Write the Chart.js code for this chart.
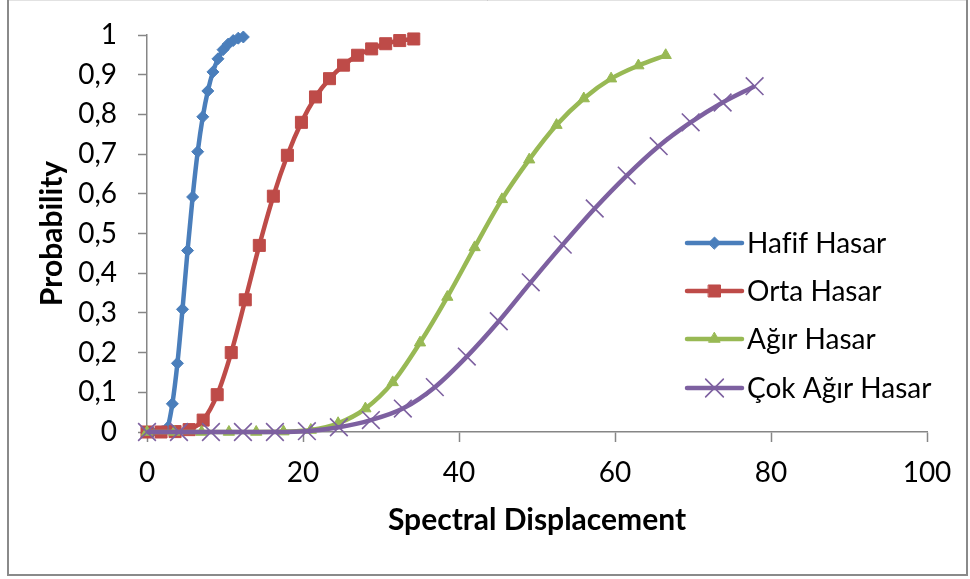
<!DOCTYPE html>
<html>
<head>
<meta charset="utf-8">
<title>Fragility curves</title>
<script src="https://cdn.jsdelivr.net/npm/chart.js@4.4.1/dist/chart.umd.min.js"></script>
<style>
  html, body { margin: 0; padding: 0; background: #ffffff; }
  #wrap { position: relative; width: 970px; height: 579px; }
  canvas { text-rendering: optimizeSpeed; }
</style>
</head>
<body>
<div id="wrap"><canvas id="chart" width="970" height="579"></canvas></div>
<script>
// Spectral displacement (x) and probability of exceedance (y) per damage state
const hafifX = [0, 0.65, 1.3, 1.95, 2.6, 3.25, 3.9, 4.55, 5.2, 5.85, 6.5, 7.15, 7.8, 8.45, 9.1, 9.75, 10.4, 11.05, 11.7, 12.35];
const hafifY = [0, 0, 0, 0.001, 0.01, 0.071, 0.173, 0.309, 0.457, 0.592, 0.706, 0.794, 0.859, 0.907, 0.94, 0.963, 0.977, 0.986, 0.992, 0.995];

const ortaX = [0, 1.8, 3.6, 5.4, 7.2, 9.0, 10.8, 12.6, 14.4, 16.2, 18.0, 19.8, 21.6, 23.4, 25.2, 27.0, 28.8, 30.6, 32.4, 34.2];
const ortaY = [0, 0, 0.001, 0.006, 0.03, 0.094, 0.2, 0.333, 0.47, 0.594, 0.697, 0.78, 0.844, 0.89, 0.924, 0.949, 0.965, 0.978, 0.986, 0.99];

const agirX = [0, 3.5, 7.0, 10.5, 14.0, 17.5, 21.0, 24.5, 28.0, 31.5, 35.0, 38.5, 42.0, 45.5, 49.0, 52.5, 56.0, 59.5, 63.0, 66.5];
const agirY = [0, 0, 0, 0, 0, 0.001, 0.005, 0.022, 0.059, 0.125, 0.225, 0.34, 0.465, 0.586, 0.686, 0.773, 0.84, 0.89, 0.923, 0.949];

const cokAgirX = [0, 4.1, 8.2, 12.3, 16.4, 20.5, 24.6, 28.7, 32.8, 36.9, 41.0, 45.1, 49.2, 53.3, 57.4, 61.5, 65.6, 69.7, 73.8, 77.9];
const cokAgirY = [0, 0, 0, 0, 0, 0.002, 0.012, 0.03, 0.059, 0.113, 0.19, 0.279, 0.377, 0.472, 0.563, 0.646, 0.72, 0.78, 0.83, 0.871];

const seriesNames = ['Hafif Hasar', 'Orta Hasar', 'Ağır Hasar', 'Çok Ağır Hasar'];
const yTickLabels = ['0', '0,1', '0,2', '0,3', '0,4', '0,5', '0,6', '0,7', '0,8', '0,9', '1'];
const xTickLabels = ['0', '20', '40', '60', '80', '100'];

const pairs = (xs, ys) => xs.map((x, i) => ({ x: x, y: ys[i] }));

const FONT = "Lato, 'Open Sans', sans-serif";
const AXIS_GREY = '#868686';

function lineSeries(label, data, color, style, radius, order, pointBorderWidth) {
  return {
    label: label,
    data: data,
    borderColor: color,
    backgroundColor: color,
    borderWidth: 4.5,
    pointStyle: style,
    pointRadius: radius,
    pointHoverRadius: radius,
    pointBackgroundColor: color,
    pointBorderColor: color,
    pointBorderWidth: pointBorderWidth,
    cubicInterpolationMode: 'monotone',
    showLine: true,
    clip: false,
    order: order
  };
}

// Legend with a line sample and the series marker, plus the outer frame
const frameAndLegend = {
  id: 'frameAndLegend',
  beforeDraw(chart) {
    const ctx = chart.ctx;
    ctx.save();
    ctx.fillStyle = '#ffffff';
    ctx.fillRect(0, 0, chart.width, chart.height);
    ctx.strokeStyle = '#8a8a8a';
    ctx.lineWidth = 2;
    ctx.strokeRect(8, 0, 959, 575);
    ctx.strokeStyle = '#e2e2e2';
    ctx.lineWidth = 1;
    ctx.beginPath(); ctx.moveTo(9, 0.5); ctx.lineTo(966, 0.5); ctx.stroke();
    ctx.restore();
  },
  afterDraw(chart) {
    const ctx = chart.ctx;
    const x0 = 687, x1 = 742, textX = 747;
    const rowY = [243, 291, 339, 388];
    ctx.save();
    if ('textRendering' in ctx) ctx.textRendering = 'optimizeSpeed';
    chart.data.datasets.forEach((ds, i) => {
      const y = rowY[i];
      ctx.strokeStyle = ds.borderColor;
      ctx.lineWidth = 4.5;
      ctx.lineCap = 'round';
      ctx.beginPath();
      ctx.moveTo(x0, y);
      ctx.lineTo(x1, y);
      ctx.stroke();
      ctx.fillStyle = ds.pointBackgroundColor;
      ctx.strokeStyle = ds.pointBorderColor;
      ctx.lineWidth = ds.pointBorderWidth;
      Chart.helpers.drawPoint(ctx, {
        pointStyle: ds.pointStyle,
        radius: ds.pointRadius,
        rotation: 0,
        borderWidth: ds.pointBorderWidth
      }, (x0 + x1) / 2, y);
      ctx.fillStyle = '#000000';
      ctx.font = '28px ' + FONT;
      ctx.textAlign = 'left';
      ctx.textBaseline = 'middle';
      ctx.fillText(ds.label, textX, y + 1);
    });
    ctx.restore();
  }
};

new Chart(document.getElementById('chart'), {
  type: 'scatter',
  data: {
    datasets: [
      lineSeries(seriesNames[0], pairs(hafifX, hafifY), '#4A7EBB', 'rectRot', 6, 4, 1),
      lineSeries(seriesNames[1], pairs(ortaX, ortaY), '#BE4B48', 'rect', 8.5, 3, 1),
      lineSeries(seriesNames[2], pairs(agirX, agirY), '#98B954', 'triangle', 6.5, 2, 1),
      lineSeries(seriesNames[3], pairs(cokAgirX, cokAgirY), '#7D60A0', 'crossRot', 12.5, 1, 1.6)
    ]
  },
  options: {
    responsive: false,
    animation: false,
    events: [],
    layout: { padding: { left: 0, top: 30, right: 43, bottom: 0 } },
    plugins: {
      legend: { display: false },
      tooltip: { enabled: false }
    },
    scales: {
      x: {
        type: 'linear',
        min: 0,
        max: 100,
        afterFit(scale) { scale.height = 147; },
        afterBuildTicks(scale) {
          scale.ticks = xTickLabels.map(t => ({ value: Number(t) }));
        },
        ticks: {
          color: '#000000',
          padding: 17,
          font: { family: FONT, size: 28, lineHeight: 1 },
          maxRotation: 0,
          autoSkip: false,
          callback: (v, i) => xTickLabels[i]
        },
        grid: {
          display: true,
          drawOnChartArea: false,
          drawTicks: true,
          tickLength: 10,
          tickColor: AXIS_GREY,
          tickWidth: 1.5
        },
        border: { display: true, color: AXIS_GREY, width: 1.5 },
        title: {
          display: true,
          text: 'Spectral Displacement',
          color: '#000000',
          font: { family: FONT, size: 30, weight: 'bold', lineHeight: 1.2 },
          padding: { top: 0, bottom: 41 }
        }
      },
      y: {
        type: 'linear',
        min: 0,
        max: 1,
        afterFit(scale) { scale.width = 147; },
        afterBuildTicks(scale) {
          scale.ticks = yTickLabels.map((t, i) => ({ value: i / 10 }));
        },
        ticks: {
          color: '#000000',
          padding: 21,
          font: { family: FONT, size: 28, lineHeight: 1 },
          autoSkip: false,
          callback: (v, i) => yTickLabels[i]
        },
        grid: {
          display: true,
          drawOnChartArea: false,
          drawTicks: true,
          tickLength: 9,
          tickColor: AXIS_GREY,
          tickWidth: 1.5
        },
        border: { display: true, color: AXIS_GREY, width: 1.5 },
        title: {
          display: true,
          text: 'Probability',
          color: '#000000',
          font: { family: FONT, size: 30, weight: 'bold', lineHeight: 1.2 },
          padding: { top: 34, bottom: 0 }
        }
      }
    }
  },
  plugins: [frameAndLegend]
});
</script>
</body>
</html>
